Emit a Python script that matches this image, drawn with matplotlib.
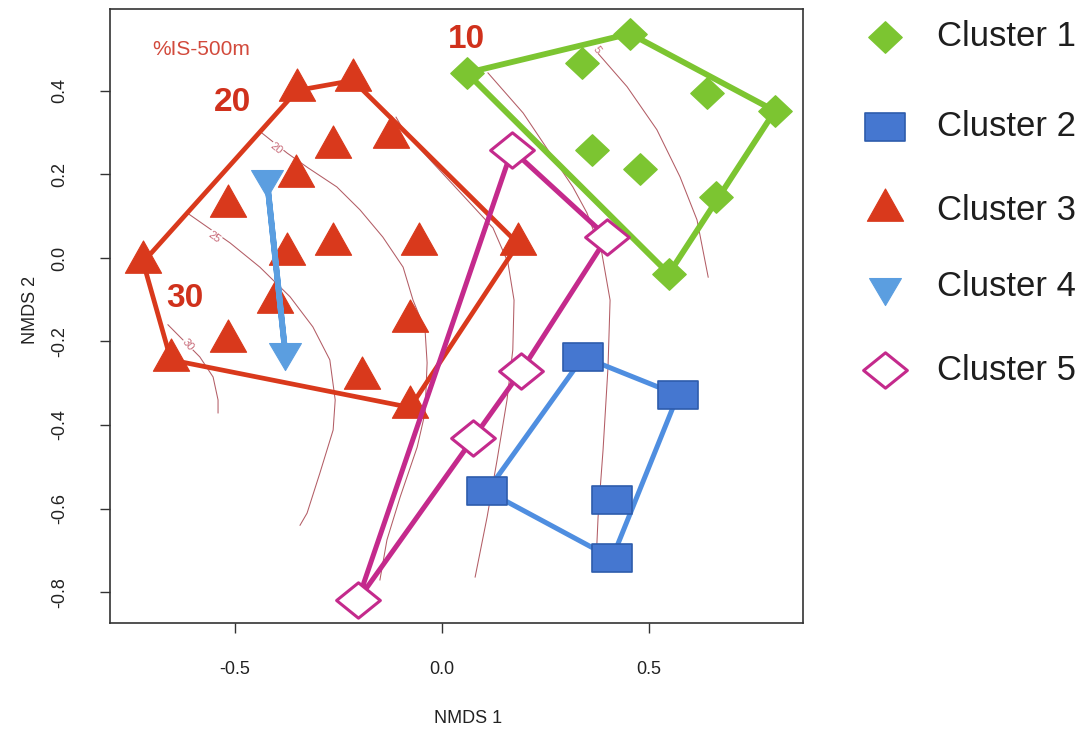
import matplotlib
matplotlib.use('Agg')
import matplotlib.pyplot as plt
from matplotlib.path import Path
from matplotlib.lines import Line2D

plt.rcParams['font.family'] = ['Liberation Sans', 'DejaVu Sans']
plt.rcParams['axes.unicode_minus'] = False

# NMDS site scores, one pair of lists per cluster
c1_x = [0.060, 0.454, 0.804, 0.662, 0.548, 0.338, 0.640, 0.362, 0.478]
c1_y = [0.443, 0.537, 0.352, 0.146, -0.038, 0.467, 0.395, 0.259, 0.213]
c2_x = [0.341, 0.570, 0.109, 0.411, 0.411]
c2_y = [-0.237, -0.328, -0.558, -0.580, -0.719]
c3_x = [-0.722, -0.350, -0.215, -0.123, -0.263, -0.353, -0.517, -0.374, -0.263,
        -0.056, 0.184, -0.403, -0.077, -0.517, -0.655, -0.193, -0.077]
c3_y = [-0.010, 0.401, 0.425, 0.289, 0.265, 0.196, 0.125, 0.010, 0.034,
        0.034, 0.034, -0.105, -0.150, -0.198, -0.244, -0.288, -0.358]
c4_x = [-0.423, -0.379]
c4_y = [0.188, -0.224]
c5_x = [0.169, 0.399, 0.191, 0.075, -0.203]
c5_y = [0.259, 0.050, -0.271, -0.431, -0.819]
cluster_names = ['Cluster 1', 'Cluster 2', 'Cluster 3', 'Cluster 4', 'Cluster 5']

# ordisurf isolines of %IS-500m
iso05_x = [0.374, 0.447, 0.519, 0.575, 0.616, 0.643]
iso05_y = [0.493, 0.410, 0.307, 0.194, 0.091, -0.046]
iso10_x = [0.111, 0.196, 0.261, 0.316, 0.350, 0.386, 0.406, 0.401, 0.389, 0.377, 0.374]
iso10_y = [0.443, 0.347, 0.251, 0.170, 0.108, 0.012, -0.101, -0.261, -0.460, -0.620, -0.687]
iso15_x = [-0.111, -0.089, -0.029, 0.056, 0.123, 0.159, 0.174, 0.171, 0.157, 0.133, 0.109, 0.080]
iso15_y = [0.337, 0.299, 0.235, 0.144, 0.072, -0.010, -0.101, -0.220, -0.340, -0.484, -0.620, -0.764]
iso20_x = [-0.435, -0.374, -0.324, -0.254, -0.198, -0.143, -0.094, -0.070, -0.041, -0.036,
           -0.041, -0.060, -0.101, -0.133, -0.150]
iso20_y = [0.299, 0.251, 0.216, 0.170, 0.115, 0.050, -0.022, -0.101, -0.172, -0.251,
           -0.371, -0.453, -0.572, -0.675, -0.771]
iso25_x = [-0.616, -0.512, -0.440, -0.367, -0.312, -0.271, -0.258, -0.263, -0.295, -0.326, -0.343]
iso25_y = [0.108, 0.036, -0.022, -0.093, -0.165, -0.244, -0.340, -0.412, -0.515, -0.611, -0.640]
iso30_x = [-0.662, -0.585, -0.553, -0.541, -0.541]
iso30_y = [-0.160, -0.237, -0.285, -0.340, -0.371]

isolines = [(iso05_x, iso05_y), (iso10_x, iso10_y), (iso15_x, iso15_y),
            (iso20_x, iso20_y), (iso25_x, iso25_y), (iso30_x, iso30_y)]


def convex_hull(xs, ys):
    # monotone chain, returns a closed ring like vegan's ordihull
    pts = sorted(set(zip(xs, ys)))
    if len(pts) < 3:
        return pts + pts[:1]

    def cross(o, a, b):
        return (a[0] - o[0]) * (b[1] - o[1]) - (a[1] - o[1]) * (b[0] - o[0])

    lower, upper = [], []
    for p in pts:
        while len(lower) >= 2 and cross(lower[-2], lower[-1], p) <= 0:
            lower.pop()
        lower.append(p)
    for p in reversed(pts):
        while len(upper) >= 2 and cross(upper[-2], upper[-1], p) <= 0:
            upper.pop()
        upper.append(p)
    ring = lower[:-1] + upper[:-1]
    return ring + ring[:1]


def draw_hull(ax, xs, ys, color, lw, z):
    ring = convex_hull(xs, ys)
    ax.plot([p[0] for p in ring], [p[1] for p in ring], color=color, lw=lw,
            solid_joinstyle='miter', zorder=z)


# R-like plotting symbols
tri_up = Path([(0, 22), (-18.5, -11), (18.5, -11), (0, 22)], closed=True)
tri_down = Path([(0, -18.7), (16.5, 9.3), (-16.5, 9.3), (0, -18.7)], closed=True)
rect = Path([(-21, -15), (21, -15), (21, 15), (-21, 15), (-21, -15)], closed=True)
diamond = Path([(17.5, 0), (0, 16.5), (-17.5, 0), (0, -16.5), (17.5, 0)], closed=True)
wide_diamond = Path([(23.5, 0), (0, 19), (-23.5, 0), (0, -19), (23.5, 0)], closed=True)

green = '#7cc531'
red = '#d9391c'
blue_fill = '#4577d0'
blue_edge = '#2e5cac'
blue_line = '#4f8ee0'
light_blue = '#5b9ee0'
magenta = '#c42a8c'
iso_color = '#a5404a'

styles = [
    dict(marker=diamond, ms=24, mfc=green, mec=green, mew=1),
    dict(marker=rect, ms=29, mfc=blue_fill, mec=blue_edge, mew=1.2),
    dict(marker=tri_up, ms=31, mfc=red, mec=red, mew=0.8),
    dict(marker=tri_down, ms=26, mfc=light_blue, mec=light_blue, mew=0.8),
    dict(marker=wide_diamond, ms=31.5, mfc='white', mec=magenta, mew=2.2),
]

fig = plt.figure(figsize=(10.87, 7.33), dpi=100)
ax = fig.add_axes([110 / 1087, 1 - 623 / 733, 693 / 1087, 614 / 733])
ax.set_xlim(-0.802, 0.872)
ax.set_ylim(-0.874, 0.596)

# isolines
for xs, ys in isolines:
    ax.plot(xs, ys, color=iso_color, lw=0.75, alpha=0.85, zorder=1)

label_kw = dict(fontsize=8, color='#c86a78', ha='center', va='center', zorder=1.5,
                bbox=dict(facecolor='white', edgecolor='none', pad=0.3))
ax.text(-0.400, 0.262, '20', rotation=-38, **label_kw)
ax.text(-0.550, 0.049, '25', rotation=-36, **label_kw)
ax.text(-0.613, -0.208, '30', rotation=-50, **label_kw)
ax.text(0.374, 0.498, '5', rotation=-55, **label_kw)

# hulls and points
draw_hull(ax, c1_x, c1_y, green, 4.2, 2)
draw_hull(ax, c2_x, c2_y, blue_line, 3.6, 2)
draw_hull(ax, c3_x, c3_y, red, 3.4, 2)
ax.plot(c1_x, c1_y, ls='none', zorder=3, **styles[0])
ax.plot(c2_x, c2_y, ls='none', zorder=3, **styles[1])
ax.plot(c3_x, c3_y, ls='none', zorder=3, **styles[2])
draw_hull(ax, c4_x, c4_y, light_blue, 4.2, 4)
draw_hull(ax, c5_x, c5_y, magenta, 3.6, 4)
ax.plot(c4_x, c4_y, ls='none', zorder=5, **styles[3])
ax.plot(c5_x, c5_y, ls='none', zorder=5, **styles[4])

# annotations
ax.text(-0.582, 0.498, '%IS-500m', fontsize=15, color='#d24a3c', ha='center', va='center')
big_kw = dict(fontsize=24, fontweight='bold', color='#d0311c', ha='center', va='center')
ax.text(0.060, 0.522, '10', **big_kw)
ax.text(-0.507, 0.371, '20', **big_kw)
ax.text(-0.621, -0.096, '30', **big_kw)

# axes in base-graphics style
ax.set_xticks([-0.5, 0.0, 0.5])
ax.set_xticklabels(['-0.5', '0.0', '0.5'])
ax.set_yticks([-0.8, -0.6, -0.4, -0.2, 0.0, 0.2, 0.4])
ax.set_yticklabels(['-0.8', '-0.6', '-0.4', '-0.2', '0.0', '0.2', '0.4'])
ax.tick_params(direction='out', length=7, width=1, colors='#333333', labelcolor='#222222',
               labelsize=13)
ax.tick_params(axis='x', pad=20)
ax.tick_params(axis='y', pad=23, labelrotation=90)
for lab in ax.get_yticklabels():
    lab.set_va('center')
for spine in ax.spines.values():
    spine.set_color('#333333')
    spine.set_linewidth(1.2)

ax.set_xlabel('NMDS 1', fontsize=13, color='#222222')
ax.xaxis.set_label_coords(0.517, -0.155)
ax.xaxis.label.set_va('center')
ax.set_ylabel('NMDS 2', fontsize=13, color='#222222')
ax.yaxis.set_label_coords(-0.115, 0.51)
ax.yaxis.label.set_va('center')

# legend to the right of the plot region
legend_rows = [37, 127, 210, 287, 370]
for name, style, row in zip(cluster_names, styles, legend_rows):
    yf = 1 - row / 733
    fig.add_artist(Line2D([885 / 1087], [yf], transform=fig.transFigure, ls='none', **style))
    fig.text(937 / 1087, yf, name, fontsize=25, color='#1e1e1e', ha='left', va='center')

fig.savefig('out.png', dpi=100, facecolor='white')
